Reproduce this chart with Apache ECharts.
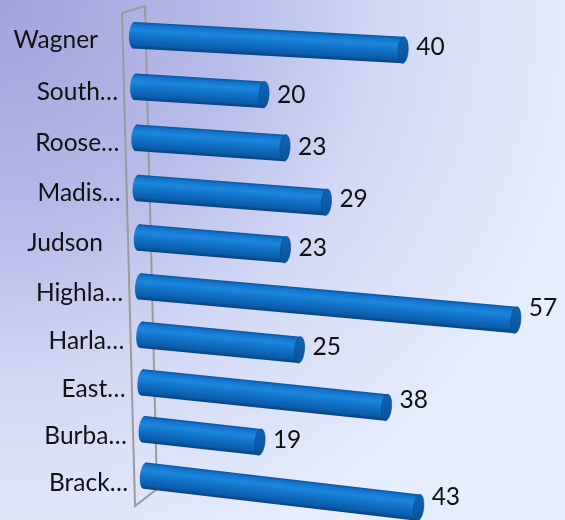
<!DOCTYPE html>
<html>
<head>
<meta charset="utf-8">
<script src="https://cdn.jsdelivr.net/npm/echarts@6/dist/echarts.min.js"></script>
<style>
html,body{margin:0;padding:0;width:565px;height:520px;overflow:hidden;}
#chart{width:565px;height:520px;}
</style>
</head>
<body>
<div id="chart"></div>
<script>
// Categories in data order (bottom to top on the axis)
const categories = ['Brack…', 'Burba…', 'East…', 'Harla…', 'Highla…', 'Judson', 'Madis…', 'Roose…', 'South…', 'Wagner'];
const values = [43, 19, 38, 25, 57, 23, 29, 23, 20, 40];
const valueMax = 57;

// perspective / style constants
const P = {
  xShift: 11, shrink: 0.055, curve: 0.06,
  slopeTop: 0.055, slopeGain: 0.062,
  thick: 26.5, rx: 5
};
const FONT = 'Lato, "Open Sans", sans-serif';
const FSIZE = 24.5;

const chart = echarts.init(document.getElementById('chart'), null, {renderer: 'canvas'});

function renderItem(params, api) {
  const v = api.value(0);
  const i = api.value(1);
  const n = categories.length;
  const topY = api.coord([0, n - 1])[1];
  const botY = api.coord([0, 0])[1];
  const p0 = api.coord([0, i]);
  const p1 = api.coord([v, i]);
  const rel = (p0[1] - topY) / (botY - topY);
  const X0 = p0[0] + P.xShift * rel;
  const L = (p1[0] - p0[0]) * (1 - P.shrink * rel);
  const Y0 = topY + (botY - topY) * (rel + P.curve * rel * (1 - rel));
  const slope = P.slopeTop + P.slopeGain * rel;
  const ang = Math.atan(slope);
  const len = L / Math.cos(ang);
  const h = P.thick, rx = P.rx;
  const bodyFill = new echarts.graphic.LinearGradient(0, 0, 0, 1, [
    {offset: 0, color: '#0a519a'},
    {offset: 0.1, color: '#1273cc'},
    {offset: 0.3, color: '#1e87de'},
    {offset: 0.55, color: '#1172c9'},
    {offset: 0.85, color: '#0b5ca9'},
    {offset: 1, color: '#08417f'}
  ]);
  const capFill = new echarts.graphic.LinearGradient(0, 0, 1, 1, [
    {offset: 0, color: '#0e66b7'},
    {offset: 1, color: '#0a5196'}
  ]);
  const name = categories[i];
  const ell = name.endsWith('…');
  return {
    type: 'group',
    children: [
      {
        type: 'group', x: X0, y: Y0, rotation: -ang,
        children: [
          {type: 'rect', shape: {x: rx, y: -h / 2, width: Math.max(0, len - 2 * rx), height: h}, style: {fill: bodyFill}},
          {type: 'ellipse', shape: {cx: rx, cy: 0, rx: rx, ry: h / 2}, style: {fill: bodyFill}},
          {type: 'ellipse', shape: {cx: len - rx, cy: 0, rx: rx, ry: h / 2}, style: {fill: capFill, stroke: '#0a4884', lineWidth: 0.6}}
        ]
      },
      {
        type: 'text', x: X0 + L + 8, y: Y0 + 0.55 * L * slope + 3.6,
        style: {text: String(values[i]), fill: '#111', font: FSIZE + 'px ' + FONT, align: 'left', verticalAlign: 'middle'}
      },
      {
        type: 'text', x: X0 - 12 - (ell ? 0 : 19), y: Y0 + 5 + 3 * rel,
        style: {text: name, fill: '#111', font: FSIZE + 'px ' + FONT, align: 'right', verticalAlign: 'middle'}
      }
    ]
  };
}

const option = {
  backgroundColor: new echarts.graphic.RadialGradient(0, 0, 1.15, [
    {offset: 0, color: '#a0a2da'},
    {offset: 0.4, color: '#b9bde9'},
    {offset: 0.65, color: '#d3d9f5'},
    {offset: 1, color: '#e6edfc'}
  ]),
  animation: false,
  grid: {left: 129, top: 10.56, width: valueMax * 6.98, height: 488.9},
  xAxis: {type: 'value', min: 0, max: valueMax, show: false},
  yAxis: {type: 'category', data: categories, show: false},
  graphic: [{
    type: 'polyline', z: 0,
    shape: {points: [[122, 13], [145, 6], [157, 489], [135, 506], [122, 13]]},
    style: {stroke: '#9b9b9b', lineWidth: 2, fill: null}
  }],
  series: [{
    type: 'custom',
    renderItem: renderItem,
    encode: {x: 0, y: 1},
    data: values.map((v, i) => [v, i]),
    z: 5
  }]
};
chart.setOption(option);
</script>
</body>
</html>
